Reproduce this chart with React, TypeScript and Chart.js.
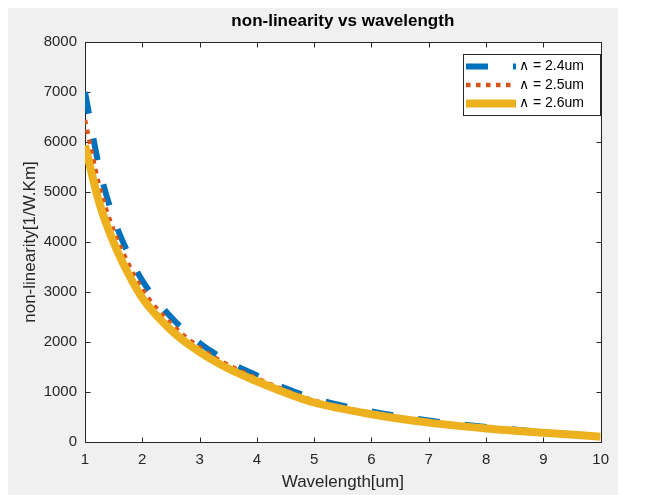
import React, { useEffect, useRef } from "react";
import { Chart, registerables } from "chart.js";

Chart.register(...registerables);

// ---- data ----
const wavelength = [1, 1.25, 1.5, 1.75, 2, 2.5, 3, 3.5, 4, 4.5, 5, 6, 7, 8, 9, 10];
const gamma24 = [7000, 5480, 4480, 3780, 3230, 2500, 1980, 1610, 1330, 1075, 870, 610, 430, 300, 200, 115];
const gamma25 = [6440, 5120, 4230, 3580, 3050, 2370, 1890, 1540, 1275, 1030, 830, 582, 409, 286, 192, 111];
const gamma26 = [5930, 4780, 3990, 3380, 2880, 2240, 1800, 1470, 1215, 985, 790, 555, 388, 272, 185, 107];
const seriesLabels = ["\u2227 = 2.4um", "\u2227 = 2.5um", "\u2227 = 2.6um"];
const titleText = "non-linearity vs wavelength";
const xTitle = "Wavelength[um]";
const yTitle = "non-linearity[1/W.Km]";
const xRange = [1, 10];
const yRange = [0, 8000];
const xStep = 1;
const yStep = 1000;

const FONT = "'Liberation Sans', Arial, Helvetica, sans-serif";
const AXIS = "#262626";
const W = 610;
const H = 487;

const framePlugin = {
  id: "matlabFrame",
  beforeDraw(chart: any) {
    const { ctx, chartArea: a } = chart;
    ctx.save();
    ctx.fillStyle = "#f0f0f0";
    ctx.fillRect(0, 0, chart.width, chart.height);
    ctx.fillStyle = "#ffffff";
    ctx.fillRect(a.left, a.top, a.right - a.left, a.bottom - a.top);
    ctx.restore();
  },
  beforeDatasetsDraw(chart: any) {
    const { ctx, chartArea: a, scales } = chart;
    ctx.save();
    ctx.strokeStyle = AXIS;
    ctx.lineWidth = 1;
    const L = Math.round(a.left) + 0.5;
    const R = Math.round(a.right) + 0.5;
    const T = Math.round(a.top) + 0.5;
    const B = Math.round(a.bottom) + 0.5;
    ctx.strokeRect(L, T, R - L, B - T);
    const tl = 5;
    ctx.beginPath();
    scales.x.ticks.forEach((t: any) => {
      const px = Math.round(scales.x.getPixelForValue(t.value)) + 0.5;
      ctx.moveTo(px, B);
      ctx.lineTo(px, B - tl);
      ctx.moveTo(px, T);
      ctx.lineTo(px, T + tl);
    });
    scales.y.ticks.forEach((t: any) => {
      const py = Math.round(scales.y.getPixelForValue(t.value)) + 0.5;
      ctx.moveTo(L, py);
      ctx.lineTo(L + tl, py);
      ctx.moveTo(R, py);
      ctx.lineTo(R - tl, py);
    });
    ctx.stroke();
    ctx.restore();
  },
  afterDraw(chart: any) {
    const { ctx, chartArea: a } = chart;
    ctx.save();
    // title
    ctx.fillStyle = "#000000";
    ctx.font = `bold 17px ${FONT}`;
    ctx.textAlign = "center";
    ctx.textBaseline = "middle";
    ctx.fillText(titleText, (a.left + a.right) / 2, 13);
    // axis titles
    ctx.fillStyle = AXIS;
    ctx.font = `17px ${FONT}`;
    ctx.fillText(xTitle, (a.left + a.right) / 2, 474);
    ctx.save();
    ctx.translate(22, (a.top + a.bottom) / 2);
    ctx.rotate(-Math.PI / 2);
    ctx.fillText(yTitle, 0, 0);
    ctx.restore();

    // legend
    const lx = a.left + 378;
    const ly = a.top + 12;
    const lw = 137;
    const lh = 61;
    ctx.fillStyle = "#ffffff";
    ctx.fillRect(lx, ly, lw, lh);
    ctx.strokeStyle = AXIS;
    ctx.lineWidth = 1;
    ctx.strokeRect(Math.round(lx) + 0.5, Math.round(ly) + 0.5, lw, lh);
    ctx.font = `14px ${FONT}`;
    ctx.textAlign = "left";
    ctx.textBaseline = "middle";
    chart.data.datasets.forEach((ds: any, i: number) => {
      const y = ly + 12.5 + i * 18.5;
      ctx.save();
      ctx.strokeStyle = ds.borderColor;
      ctx.lineWidth = ds.borderWidth;
      ctx.lineCap = "butt";
      ctx.setLineDash(ds.borderDash || []);
      ctx.beginPath();
      ctx.moveTo(lx + 3, y);
      ctx.lineTo(lx + 53, y);
      ctx.stroke();
      ctx.restore();
      ctx.fillStyle = "#000000";
      ctx.fillText(ds.label, lx + 56, y);
    });
    ctx.restore();
  },
};

export default function App() {
  const ref = useRef<HTMLCanvasElement | null>(null);
  useEffect(() => {
    if (!ref.current) return;
    const chart = new Chart(ref.current, {
      type: "line",
      data: {
        labels: wavelength,
        datasets: [
          {
            label: seriesLabels[0],
            data: wavelength.map((x, i) => ({ x, y: gamma24[i] })),
            borderColor: "#0072BD",
            borderWidth: 6,
            borderDash: [22, 25],
            borderCapStyle: "butt",
            pointRadius: 0,
            cubicInterpolationMode: "monotone",
            fill: false,
            order: 3,
          },
          {
            label: seriesLabels[1],
            data: wavelength.map((x, i) => ({ x, y: gamma25[i] })),
            borderColor: "#D95319",
            borderWidth: 4.5,
            borderDash: [4.5, 5.5],
            borderCapStyle: "butt",
            pointRadius: 0,
            cubicInterpolationMode: "monotone",
            fill: false,
            order: 2,
          },
          {
            label: seriesLabels[2],
            data: wavelength.map((x, i) => ({ x, y: gamma26[i] })),
            borderColor: "#EDB120",
            borderWidth: 8,
            borderCapStyle: "butt",
            pointRadius: 0,
            cubicInterpolationMode: "monotone",
            fill: false,
            order: 1,
          },
        ],
      },
      options: {
        responsive: false,
        animation: false,
        devicePixelRatio: 1,
        layout: { padding: { left: 0, top: 34, right: 15, bottom: 0 } },
        plugins: { legend: { display: false }, tooltip: { enabled: false }, title: { display: false } },
        scales: {
          x: {
            type: "linear",
            min: xRange[0],
            max: xRange[1],
            grid: { display: false, drawTicks: false },
            border: { display: false },
            ticks: {
              stepSize: xStep,
              color: AXIS,
              font: { family: FONT, size: 15 },
              padding: 9,
              maxRotation: 0,
              autoSkip: false,
              callback: (v: any) => String(v),
            },
            afterFit: (s: any) => { s.height = 53; },
          },
          y: {
            type: "linear",
            min: yRange[0],
            max: yRange[1],
            grid: { display: false, drawTicks: false },
            border: { display: false },
            ticks: {
              stepSize: yStep,
              color: AXIS,
              font: { family: FONT, size: 15 },
              padding: 8,
              callback: (v: any) => String(v),
            },
            afterFit: (s: any) => { s.width = 77; },
          },
        },
      },
      plugins: [framePlugin],
    } as any);
    return () => chart.destroy();
  }, []);
  return (
    <div style={{ width: W, height: H }}>
      <canvas ref={ref} width={W} height={H} style={{ display: "block", width: W, height: H }} />
    </div>
  );
}
